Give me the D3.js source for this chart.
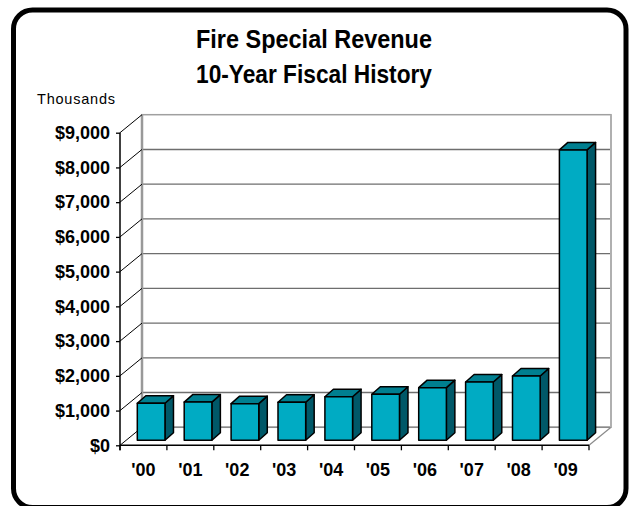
<!DOCTYPE html>
<html><head><meta charset="utf-8">
<script src="https://cdn.jsdelivr.net/npm/d3@7"></script>
<style>html,body{margin:0;padding:0;background:#fff}svg{display:block}</style>
</head><body>
<script>
const categories = ["'00","'01","'02","'03","'04","'05","'06","'07","'08","'09"];
const values = [1065, 1100, 1055, 1095, 1255, 1325, 1515, 1680, 1850, 8360];
const tickValues = [0,1000,2000,3000,4000,5000,6000,7000,8000,9000];
const titleLines = ["Fire Special Revenue", "10-Year Fiscal History"];
const unitLabel = "Thousands";

const W = 629, H = 506;
const svg = d3.select("body").append("svg").attr("width", W).attr("height", H);

const x = d3.scaleBand().domain(categories).range([120, 589]);
const y = d3.scaleLinear().domain([0, 9000]).range([445.3, 132.7]);
const DX = 22, DY = -18;          // wall depth
const FX = 6, FY = -5;            // bar front offset
const BX = 8.5, BY = -7.5;        // bar depth
const font = "'Liberation Sans', Arial, sans-serif";

// frame
svg.append("rect").attr("x", 13.5).attr("y", 10).attr("width", 612.5).attr("height", 497.5)
  .attr("rx", 19).attr("fill", "#fff").attr("stroke", "#000").attr("stroke-width", 5);

// title
titleLines.forEach((t, i) => {
  svg.append("text").attr("x", 314).attr("y", 47.5 + i * 35).attr("text-anchor", "middle")
    .attr("font-family", font).attr("font-weight", "bold").attr("font-size", 26.5)
    .attr("textLength", 236).attr("lengthAdjust", "spacingAndGlyphs").text(t);
});
svg.append("text").attr("x", 37).attr("y", 104).attr("font-family", font).attr("font-size", 14.5)
  .attr("textLength", 78).attr("lengthAdjust", "spacing").text(unitLabel);

const x0 = x.range()[0], x1 = x.range()[1];
// back wall
svg.append("rect").attr("x", x0 + DX).attr("y", y(9000) + DY).attr("width", x1 - x0)
  .attr("height", y(0) - y(9000)).attr("fill", "#fff").attr("stroke", "#a0a0a0").attr("stroke-width", 1.5);
// back gridlines
svg.selectAll("line.grid").data(tickValues.filter(v => v > 0 && v < 9000)).join("line")
  .attr("x1", x0 + DX).attr("x2", x1 + DX).attr("y1", d => y(d) + DY).attr("y2", d => y(d) + DY)
  .attr("stroke", "#6e6e6e").attr("stroke-width", 1.4);
// back-left edge
svg.append("line").attr("x1", x0 + DX).attr("x2", x0 + DX).attr("y1", y(0) + DY).attr("y2", y(9000) + DY)
  .attr("stroke", "#999").attr("stroke-width", 2.5);
// left wall depth lines
svg.selectAll("line.side").data(tickValues).join("line")
  .attr("x1", x0).attr("x2", x0 + DX).attr("y1", d => y(d)).attr("y2", d => y(d) + DY)
  .attr("stroke", "#000").attr("stroke-width", 1);
// floor
svg.append("line").attr("x1", x0 + DX).attr("x2", x1 + DX).attr("y1", y(0) + DY).attr("y2", y(0) + DY)
  .attr("stroke", "#8a8a8a").attr("stroke-width", 1.6);
svg.append("line").attr("x1", x1).attr("x2", x1 + DX).attr("y1", y(0)).attr("y2", y(0) + DY)
  .attr("stroke", "#8a8a8a").attr("stroke-width", 1.2);
svg.append("line").attr("x1", x1 + DX).attr("x2", x1 + DX).attr("y1", y(0) + DY).attr("y2", y(9000) + DY)
  .attr("stroke", "#b0b0b0").attr("stroke-width", 2);

// bars
const bw = x.bandwidth() * 0.59, bo = x.bandwidth() * 0.241;
const g = svg.append("g").attr("stroke", "#000").attr("stroke-width", 1.5).attr("stroke-linejoin", "round");
categories.forEach((c, i) => {
  const v = values[i];
  const fx = x(c) + bo + FX, ft = y(v) + FY, fb = y(0) + FY;
  g.append("polygon").attr("fill", "#005868")
    .attr("points", [[fx + bw, ft], [fx + bw + BX, ft + BY], [fx + bw + BX, fb + BY], [fx + bw, fb]].join(" "));
  g.append("polygon").attr("fill", "#007f90")
    .attr("points", [[fx, ft], [fx + bw, ft], [fx + bw + BX, ft + BY], [fx + BX, ft + BY]].join(" "));
  g.append("rect").attr("fill", "#00abc3").attr("x", fx).attr("y", ft).attr("width", bw).attr("height", fb - ft);
});

// axes
const ya = d3.axisLeft(y).tickValues(tickValues).tickSize(4).tickFormat(d => "$" + d3.format(",")(d));
const yg = svg.append("g").attr("transform", `translate(${x0},0)`).call(ya);
yg.select(".domain").attr("stroke", "#000").attr("stroke-width", 1.5).attr("d", `M0,${y(0) + 5}V${y(9000)}`);
yg.selectAll(".tick line").attr("stroke", "#000").attr("stroke-width", 1.3);
yg.selectAll(".tick text").attr("x", -10).attr("font-family", font).attr("font-weight", "bold")
  .attr("font-size", 18).attr("fill", "#000");

const xa = d3.axisBottom(x).tickSize(0).tickPadding(0);
const xg = svg.append("g").attr("transform", `translate(0,${y(0)})`).call(xa);
xg.select(".domain").attr("stroke", "#000").attr("stroke-width", 1.5).attr("d", `M${x0},0H${x1}`);
xg.selectAll(".tick text").attr("y", 30.5).attr("dy", null).attr("font-family", font).attr("font-weight", "bold")
  .attr("font-size", 18).attr("fill", "#000");
xg.selectAll("line.bt").data(d3.range(categories.length + 1)).join("line")
  .attr("x1", i => x0 + i * x.step()).attr("x2", i => x0 + i * x.step()).attr("y1", 0).attr("y2", 5)
  .attr("stroke", "#000").attr("stroke-width", 1.3);
</script>
</body></html>
